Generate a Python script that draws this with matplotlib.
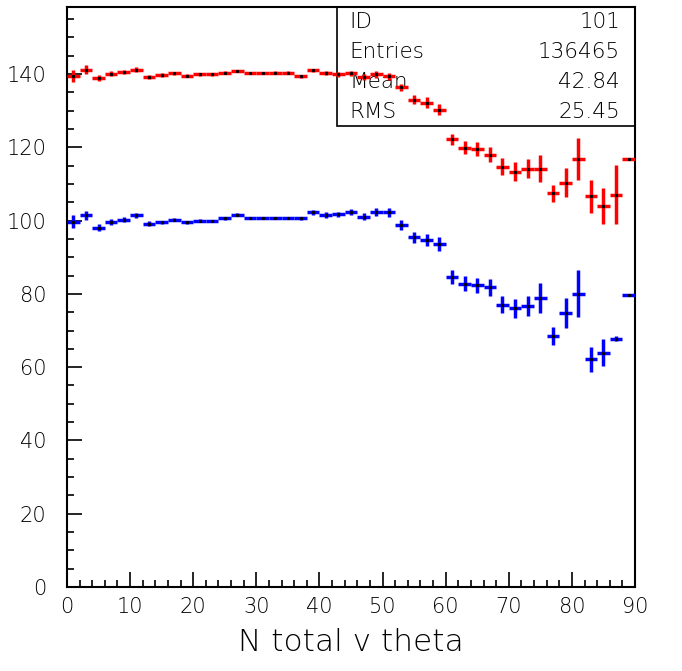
import matplotlib
matplotlib.use("Agg")
import matplotlib.pyplot as plt
import numpy as np

# bin centres (width 2, 0..90)
centres = np.arange(1, 90, 2)

red_vals = [139.5, 141.2, 139.0, 140.1, 140.5, 141.2, 139.2, 139.7, 140.2, 139.5,
            139.9, 139.9, 140.4, 140.9, 140.3, 140.2, 140.4, 140.4, 139.4, 141.0,
            140.2, 139.9, 140.2, 139.2, 139.9, 139.4, 136.4, 133.0, 132.2, 130.3,
            122.2, 119.9, 119.5, 118.0, 114.7, 113.4, 114.2, 114.2, 107.4, 110.4,
            116.9, 106.6, 104.1, 107.1, 116.7]
red_errs = [1.7, 1.3, 0.8, 0.7, 0.6, 0.6, 0.5, 0.5, 0.45, 0.4,
            0.4, 0.3, 0.3, 0.3, 0.3, 0.3, 0.3, 0.3, 0.4, 0.5,
            0.5, 0.6, 0.7, 0.8, 1.0, 0.9, 1.0, 1.2, 1.5, 1.6,
            1.5, 1.8, 1.9, 2.1, 2.3, 2.6, 2.6, 3.7, 2.3, 4.0,
            5.7, 4.4, 4.9, 8.0, 0.0]

blue_vals = [99.7, 101.4, 98.1, 99.7, 100.3, 101.4, 99.2, 99.5, 100.3, 99.5,
             100.0, 100.0, 100.6, 101.6, 100.8, 100.8, 100.8, 100.8, 100.6, 102.3,
             101.5, 101.7, 102.3, 101.1, 102.3, 102.3, 98.7, 95.4, 94.7, 93.6,
             84.7, 82.8, 82.3, 81.8, 77.1, 76.1, 76.6, 78.8, 68.5, 74.7,
             80.1, 62.1, 64.0, 67.8, 79.6]
blue_errs = [1.8, 1.3, 0.9, 0.8, 0.7, 0.6, 0.6, 0.5, 0.5, 0.5,
             0.4, 0.3, 0.4, 0.4, 0.3, 0.3, 0.3, 0.3, 0.4, 0.7,
             0.8, 0.7, 0.9, 1.0, 1.1, 1.2, 1.4, 1.5, 1.6, 1.9,
             1.9, 2.0, 2.0, 2.3, 2.2, 2.6, 2.7, 4.1, 2.5, 4.1,
             6.3, 3.3, 3.7, 0.6, 0.0]

stats_names = ["ID", "Entries", "Mean", "RMS"]
stats_values = ["101", "136465", "42.84", "25.45"]

plt.rcParams["font.family"] = ["DejaVu Sans"]
plt.rcParams["font.weight"] = "light"

fig = plt.figure(figsize=(6.82, 6.71), dpi=100)
ax = fig.add_axes([67 / 682, 1 - 587 / 671, 568 / 682, 580 / 671])
ax.set_xlim(0, 90)
ax.set_ylim(0, 158.3)

for vals, errs, col in [(red_vals, red_errs, "#ff0000"), (blue_vals, blue_errs, "#0000ff")]:
    ax.errorbar(centres, vals, xerr=1, yerr=errs, fmt="none", ecolor=col,
                elinewidth=2.5, capsize=0, zorder=3)
    ax.plot(centres, vals, linestyle="none", marker="s", markersize=1.2,
            color="black", zorder=4)

# stats box
box = plt.Rectangle((0.475, 0.795), 0.525, 0.205, transform=ax.transAxes,
                    fill=False, edgecolor="black", linewidth=1.2, zorder=2)
ax.add_patch(box)
row_y = [0.974, 0.922, 0.871, 0.819]
for name, val, yy in zip(stats_names, stats_values, row_y):
    ax.text(0.498, yy, name, transform=ax.transAxes, ha="left", va="center",
            fontsize=15.5, fontweight="light", color="black", zorder=2)
    ax.text(0.974, yy, val, transform=ax.transAxes, ha="right", va="center",
            fontsize=15.5, fontweight="light", color="black", zorder=2)

ax.set_xticks(np.arange(0, 91, 10))
ax.set_xticks(np.arange(0, 91, 2), minor=True)
ax.set_yticks(np.arange(0, 141, 20))
ax.set_yticks(np.arange(0, 158, 5), minor=True)
ax.tick_params(axis="both", which="major", direction="in", length=11, width=1.2,
               labelsize=15, top=False, right=False)
ax.tick_params(axis="both", which="minor", direction="in", length=5, width=1.2,
               top=False, right=False)
ax.tick_params(axis="x", pad=7)
ax.tick_params(axis="y", pad=15)
for sp in ax.spines.values():
    sp.set_linewidth(1.5)

ax.set_xlabel("N total v theta", fontsize=22.5, fontweight="light", labelpad=8)

fig.savefig("out.png", dpi=100)
